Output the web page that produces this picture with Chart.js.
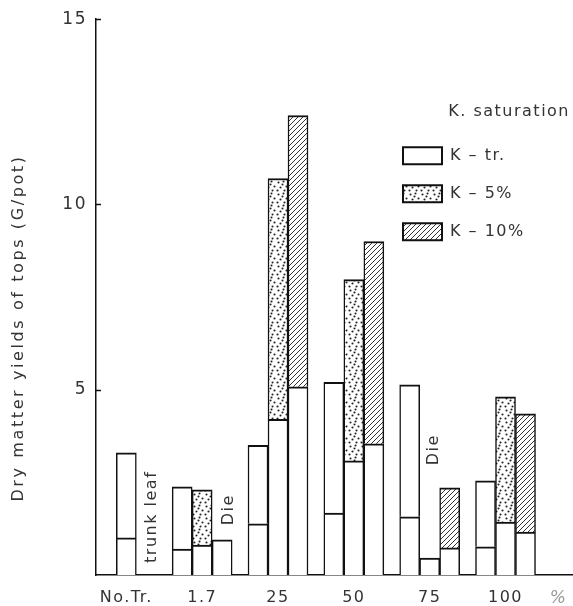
<!DOCTYPE html>
<html><head><meta charset="utf-8">
<script src="https://cdn.jsdelivr.net/npm/chart.js@4.4.0/dist/chart.umd.min.js"></script>
<style>html,body{margin:0;padding:0;background:#fff}#wrap{width:573px;height:606px;position:relative}</style>
</head><body><div id="wrap"><canvas id="c" width="573" height="606"></canvas></div>
<script>
// ---- data ----
const categories = ['No.Tr.', '1.7', '25', '50', '75', '100'];
const xTickLabels = ['No.Tr.', '1.7', '25', '50', '75', '100', '%'];
const xTickPositions = [0, 1, 2, 3, 4, 5, 5.7];
const yTicks = [5, 10, 15];
const seriesNames = ['K \u2013 tr.', 'K \u2013 5%', 'K \u2013 10%'];
// trunk (lower part) and total (trunk + leaf) for each treatment; null = none / died
const kTrTrunk  = [1.0, 0.70, 1.38, 1.67, 1.57, 0.76];
const kTrTotal  = [3.3, 2.38, 3.50, 5.20, 5.13, 2.54];
const k5Trunk   = [null, 0.81, 4.20, 3.08, 0.46, 1.43];
const k5Total   = [null, 2.30, 10.70, 7.97, null, 4.81];
const k10Trunk  = [null, 0.95, 5.08, 3.54, 0.73, 1.16];
const k10Total  = [null, null, 12.40, 9.00, 2.35, 4.35];
const annotations = [
  {text: 'trunk leaf', x: 0.33, y: 1.57},
  {text: 'Die', x: 1.35, y: 1.76},
  {text: 'Die', x: 4.06, y: 3.38}
];

// ---- patterns ----
function makeDots() {
  const c = document.createElement('canvas'); c.width = 12; c.height = 12;
  const g = c.getContext('2d');
  g.fillStyle = '#fff'; g.fillRect(0, 0, 12, 12); g.fillStyle = '#222';
  [[2,2],[7,1],[10,6],[4,7],[8,10],[1,10],[6,4]].forEach(([x, y]) => {
    g.beginPath(); g.arc(x + 0.5, y + 0.5, 1.05, 0, Math.PI * 2); g.fill();
  });
  return g.createPattern(c, 'repeat');
}
function makeHatch() {
  const s = 5;
  const c = document.createElement('canvas'); c.width = s; c.height = s;
  const g = c.getContext('2d');
  g.fillStyle = '#fff'; g.fillRect(0, 0, s, s);
  g.strokeStyle = '#333'; g.lineWidth = 1;
  g.beginPath();
  g.moveTo(0, s); g.lineTo(s, 0);
  g.moveTo(-1, 1); g.lineTo(1, -1);
  g.moveTo(s - 1, s + 1); g.lineTo(s + 1, s - 1);
  g.stroke();
  return g.createPattern(c, 'repeat');
}
const dots = makeDots();
const hatch = makeHatch();
const fills = ['#ffffff', dots, hatch];

const leafOf = (trunk, total) => total.map((t, i) => (t == null || trunk[i] == null) ? null : +(t - trunk[i]).toFixed(2));
const toXY = arr => arr.map((v, i) => ({x: i, y: v}));

const series = [
  {trunk: kTrTrunk, total: kTrTotal},
  {trunk: k5Trunk, total: k5Total},
  {trunk: k10Trunk, total: k10Total}
];
const barBorder = {top: 2, left: 1.5, right: 1.5, bottom: 0};
const datasets = [];
series.forEach((s, k) => {
  datasets.push({
    label: seriesNames[k] + ' trunk', stack: 's' + k,
    data: toXY(s.trunk), backgroundColor: '#ffffff',
    borderColor: '#111', borderWidth: barBorder, borderSkipped: 'start'
  });
  datasets.push({
    label: seriesNames[k], stack: 's' + k,
    data: toXY(leafOf(s.trunk, s.total)), backgroundColor: fills[k],
    borderColor: '#111', borderWidth: barBorder, borderSkipped: 'start'
  });
});

const FONT = '"DejaVu Sans", sans-serif';
Chart.defaults.font.family = FONT;
Chart.defaults.color = '#333';

const extras = {
  id: 'extras',
  beforeUpdate(chart) { chart.ctx.letterSpacing = '1.5px'; },
  afterLayout(chart) {
    const lg = chart.legend;
    const L = 382, T = 104;
    lg.left = L; lg.top = T; lg.width = 570 - L; lg.right = 570;
    lg.height = 160; lg.bottom = T + 160;
  },
  afterDraw(chart) {
    const {ctx, scales: {x, y}, chartArea} = chart;
    ctx.save();
    ctx.strokeStyle = '#111'; ctx.lineWidth = 1.5;
    yTicks.forEach(v => {
      const py = Math.round(y.getPixelForValue(v)) + 0.5;
      ctx.beginPath(); ctx.moveTo(chartArea.left, py); ctx.lineTo(chartArea.left + 5, py); ctx.stroke();
    });
    ctx.fillStyle = '#333';
    ctx.textAlign = 'center'; ctx.textBaseline = 'middle';
    // y axis title
    ctx.save();
    ctx.font = '16px ' + FONT;
    ctx.letterSpacing = '2.6px';
    ctx.translate(19, 328); ctx.rotate(-Math.PI / 2);
    ctx.fillText('Dry matter yields of tops (G/pot)', 0, 0);
    ctx.restore();
    // annotations
    ctx.font = '16px ' + FONT;
    annotations.forEach(a => {
      ctx.save();
      ctx.translate(x.getPixelForValue(a.x), y.getPixelForValue(a.y));
      ctx.rotate(-Math.PI / 2);
      ctx.fillText(a.text, 0, 0);
      ctx.restore();
    });
    ctx.restore();
  }
};

new Chart(document.getElementById('c'), {
  type: 'bar',
  data: {datasets},
  plugins: [extras],
  options: {
    responsive: false,
    devicePixelRatio: 1,
    animation: false,
    layout: {padding: {top: 18, right: 0, bottom: 0, left: 0}},
    datasets: {bar: {barThickness: 20, skipNull: true}},
    scales: {
      x: {
        type: 'linear', stacked: true, offset: false,
        min: -0.4, max: 5.89,
        grid: {drawOnChartArea: false, drawTicks: false, offset: false},
        border: {display: true, color: '#111', width: 1.5},
        afterBuildTicks: s => { s.ticks = xTickPositions.map(v => ({value: v})); },
        afterFit: s => { s.height = 31; s.paddingLeft = 0; s.paddingRight = 0; },
        ticks: {
          autoSkip: false, maxRotation: 0, padding: 13,
          callback: (v, i) => xTickLabels[i],
          font: ctx => ctx.index === 6 ? {size: 17, style: 'italic'} : {size: 16},
          color: ctx => ctx.index === 6 ? '#999' : '#333'
        }
      },
      y: {
        stacked: true, min: 0, max: 15,
        grid: {drawOnChartArea: false, drawTicks: false},
        border: {display: true, color: '#111', width: 1.5},
        afterBuildTicks: s => { s.ticks = yTicks.map(v => ({value: v})); },
        afterFit: s => { s.width = 96; },
        ticks: {padding: 9, font: {size: 17}, color: '#333'}
      }
    },
    plugins: {
      tooltip: {enabled: false},
      legend: {
        position: 'chartArea', align: 'start',
        title: {display: true, text: 'K. saturation', position: 'end', color: '#333',
                font: {size: 16}, padding: {top: 0, bottom: 3}},
        labels: {
          boxWidth: 39, boxHeight: 17, padding: 21, color: '#333', font: {size: 16},
          generateLabels: () => seriesNames.map((n, k) => ({
            text: n, fillStyle: fills[k], strokeStyle: '#111', lineWidth: 2,
            hidden: false, datasetIndex: k * 2 + 1
          }))
        }
      }
    }
  }
});
</script>
</body></html>
